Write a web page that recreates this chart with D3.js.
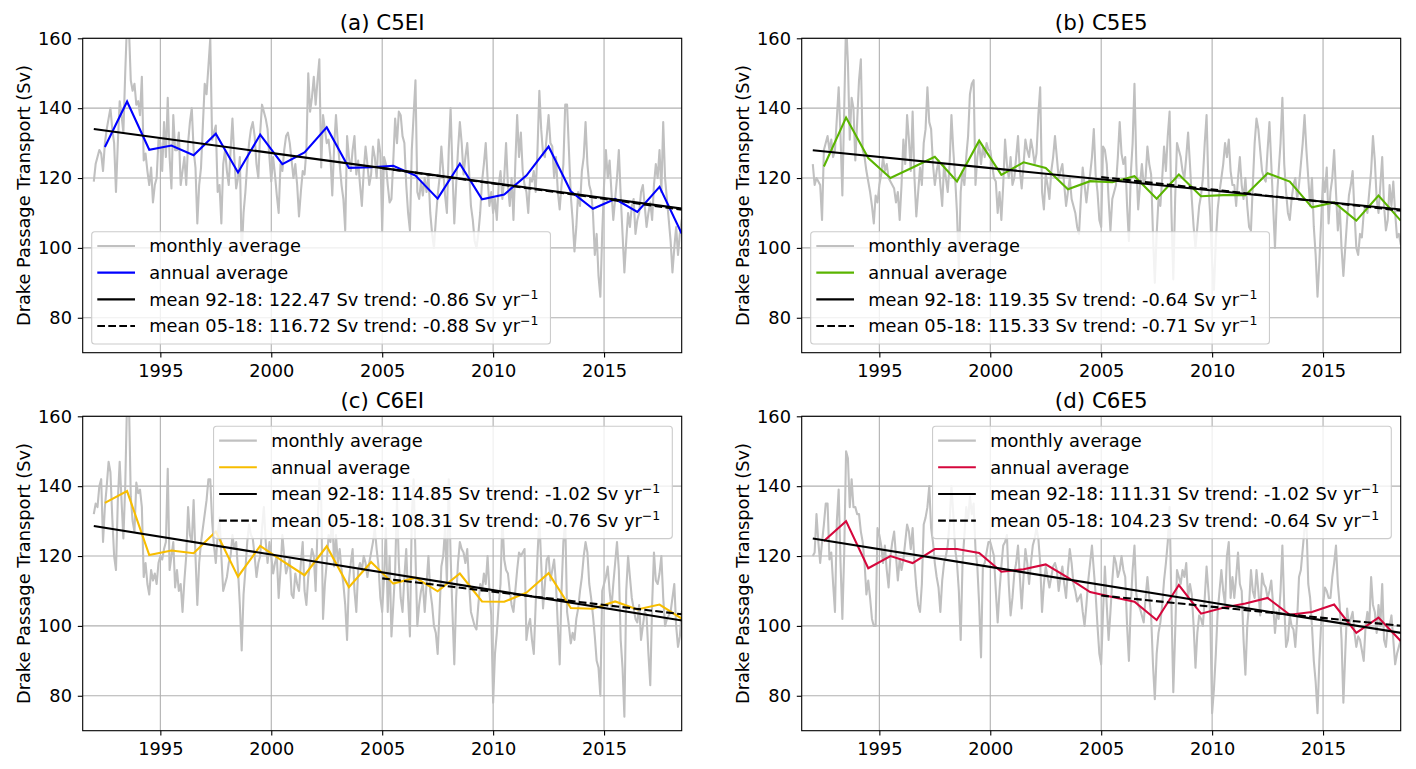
<!DOCTYPE html>
<html>
<head>
<meta charset="utf-8">
<script src="https://cdn.jsdelivr.net/npm/d3@7"></script>
<style>
	body { margin: 0; background: #fff; }
	text { font-family: "DejaVu Sans", sans-serif; fill: #000; }
</style>
</head>
<body>
<svg id="chart" width="1416" height="769"></svg>
<script>
var panelTitles = ['(a) C5EI', '(b) C5E5', '(c) C6EI', '(d) C6E5'];
var annualColors = ['#0000ff', '#5ab400', '#f7bd00', '#d5073c'];
var monthlyColor = '#c0c0c0';
var startYear = 1992;
var xTicks = [1995, 2000, 2005, 2010, 2015];
var yTicks = [80, 100, 120, 140, 160];

var meanFull = [122.47, 119.35, 114.85, 111.31];
var trendFull = [-0.86, -0.64, -1.02, -1.02];
var meanRecent = [116.72, 115.33, 108.31, 104.23];
var trendRecent = [-0.88, -0.71, -0.76, -0.64];
var periodFull = [1992, 2018 + 11 / 12];
var periodRecent = [2005, 2018 + 11 / 12];
var legendCorner = ['lower left', 'lower left', 'upper right', 'upper right'];

// monthly means, one row per year 1992..2018
var monthlyA = [
	119,124,126,128,127,122,130,134,137,140,134,130,
	116,130,142,138,133,150,165,163,148,145,147,141,
	142,138,149,125,127,122,118,123,113,118,120,131,
	130,122,136,126,143,126,117,138,128,128,133,118,
	122,126,118,130,136,140,128,123,107,118,123,135,
	147,144,152,160,131,133,135,116,118,107,124,128,
	122,118,128,137,126,117,120,126,98,110,116,124,
	130,134,136,132,124,120,133,141,139,137,134,126,
	119,126,121,115,110,124,122,128,132,133,130,125,
	120,124,118,109,116,122,121,128,150,139,143,149,
	141,148,154,123,138,134,130,131,126,115,129,138,
	130,124,118,114,105,132,126,122,128,132,121,125,
	118,112,122,129,124,118,121,129,126,120,131,127,
	105,126,124,118,113,114,125,137,130,139,138,132,
	130,118,110,105,128,138,148,116,114,119,115,120,
	116,121,110,104,100,108,115,120,129,122,115,110,
	128,140,122,107,118,128,136,130,121,126,130,122,
	112,108,102,100,104,110,119,124,130,120,112,116,
	110,114,108,118,122,114,120,130,118,112,120,108,
	124,138,126,133,122,118,116,110,120,119,122,116,
	128,145,134,127,126,132,138,130,129,120,126,116,
	111,118,124,141,141,128,115,108,99,106,116,112,
	122,126,136,124,118,116,110,98,104,92,86,104,
	118,128,120,125,116,108,114,120,128,115,104,93,
	102,110,106,112,114,104,108,110,116,118,112,106,
	110,113,108,118,124,120,128,116,136,120,114,108,
	102,93,100,106,98,104,108,110,106,104,108,110
];
var monthlyB = [
	124,118,120,119,118,108,128,130,132,128,131,126,
	128,137,146,132,115,140,165,153,131,143,140,125,
	136,148,154,128,126,122,119,116,112,107,115,113,
	118,121,126,122,124,120,119,118,117,113,116,108,
	118,131,124,138,131,122,139,120,109,116,123,118,
	130,134,146,136,134,124,118,122,125,118,112,124,
	120,116,124,138,128,120,110,94,116,122,118,126,
	132,144,147,148,118,126,130,124,129,126,130,128,
	128,124,120,119,110,116,108,118,131,124,120,126,
	118,120,126,132,122,117,124,131,128,126,131,128,
	124,127,138,146,116,111,121,118,114,122,126,132,
	126,120,122,124,118,112,116,120,114,112,110,106,
	104,114,123,118,113,118,121,126,134,121,116,108,
	106,129,128,124,114,105,114,116,118,126,136,127,
	124,126,112,102,121,130,147,124,111,118,124,118,
	120,129,124,121,104,90,104,114,112,120,129,122,
	132,139,110,91,114,130,128,126,122,120,126,133,
	124,114,106,100,106,112,115,120,130,138,118,109,
	96,88,102,111,116,120,124,130,126,131,122,118,
	118,112,120,126,118,114,120,112,106,105,118,130,
	137,134,128,122,120,119,128,136,124,112,100,114,
	122,130,143,124,116,110,108,114,118,120,114,118,
	124,130,138,128,120,112,120,106,98,86,96,108,
	120,116,123,107,116,120,128,116,105,112,100,92,
	100,108,115,118,122,110,100,98,104,103,110,112,
	110,116,122,132,125,114,110,118,126,112,105,108,
	118,112,119,110,103,104,101,106,104,102,108,106
];
var monthlyC = [
	132,135,134,140,142,124,134,140,147,144,131,120,
	116,136,147,136,125,140,165,165,137,130,127,141,
	138,139,134,114,118,112,109,116,113,115,112,118,
	120,119,122,124,145,116,120,124,111,116,110,112,
	104,113,120,134,126,124,136,120,106,118,124,128,
	132,136,142,142,130,123,118,126,131,120,110,112,
	114,118,120,126,122,124,116,106,93,109,116,124,
	129,126,125,120,114,118,120,128,134,124,118,124,
	120,115,118,120,108,116,126,120,115,117,119,109,
	108,115,112,110,118,124,110,106,114,118,122,120,
	110,128,142,136,102,112,118,126,124,132,117,126,
	118,122,116,112,106,96,113,118,122,110,104,116,
	118,116,120,118,114,118,121,124,128,122,117,108,
	104,114,128,104,120,97,106,116,136,118,108,104,
	114,122,108,97,131,142,120,100,106,110,112,104,
	112,120,110,106,100,98,92,104,117,120,128,112,
	142,120,104,89,108,118,124,122,121,118,122,112,
	104,102,100,99,106,112,110,115,112,120,110,103,
	78,92,98,106,112,131,119,116,115,110,106,104,
	110,116,121,120,121,122,96,100,102,96,92,106,
	120,131,118,105,112,119,120,113,116,119,112,100,
	89,110,124,130,104,100,95,98,96,102,105,110,
	114,120,124,121,112,108,103,97,90,88,80,110,
	112,114,117,110,105,112,118,124,116,96,88,74,
	110,120,114,108,105,102,101,106,96,100,104,103,
	92,83,106,121,113,112,115,120,108,100,102,103,
	104,108,112,100,94,97,104,100,102,98,104,102
];
var monthlyD = [
	120,121,132,124,118,124,129,135,135,119,121,112,
	104,130,139,118,102,121,150,148,134,142,134,134,
	132,132,127,124,118,109,113,108,102,100,100,128,
	126,123,118,123,116,111,120,124,127,120,113,119,
	116,119,124,129,127,122,128,118,111,106,104,112,
	129,131,134,140,128,124,118,114,111,104,113,118,
	120,123,130,140,132,122,118,110,96,118,126,134,
	130,137,132,135,122,117,106,91,117,118,121,124,
	124,122,120,110,101,110,117,123,124,126,112,103,
	108,115,118,123,114,105,114,122,118,112,118,123,
	125,128,125,118,104,112,117,114,111,114,117,118,
	116,110,114,117,112,108,116,122,118,112,110,107,
	108,109,104,100,106,113,118,123,116,109,100,92,
	89,104,117,106,96,104,113,120,118,114,116,120,
	116,114,100,90,106,116,123,109,106,105,103,101,
	108,114,108,103,89,79,92,98,101,106,113,118,
	124,134,106,81,98,116,114,112,116,114,118,108,
	112,109,100,88,98,103,102,100,108,117,110,103,
	75,82,92,104,110,116,110,106,120,124,108,114,
	108,114,121,112,110,96,86,100,106,116,110,108,
	116,110,103,115,112,111,108,110,113,106,98,104,
	102,110,123,106,94,96,103,100,99,94,102,114,
	116,122,128,130,112,108,100,90,84,75,90,101,
	106,111,110,108,108,114,118,123,112,106,96,78,
	92,105,100,102,104,98,94,97,96,93,90,100,
	104,100,114,106,104,98,106,100,112,96,94,100,
	100,103,96,89,92,94,96,94,96,95,98,96
];

// annual means, 1992..2018 (plotted mid-year)
var annualA = [128.9,141.9,128.1,129.3,126.5,132.7,121.6,132.4,124.0,127.3,134.5,122.9,123.1,123.5,120.7,114.1,124.1,113.9,115.3,120.7,129.0,116.2,111.2,114.0,110.3,117.5,104.1];
var annualB = [123.3,137.3,125.7,120.0,123.0,126.1,119.0,130.7,120.9,124.5,122.9,116.8,119.1,118.8,120.5,114.1,121.0,114.8,115.1,115.1,121.4,119.0,111.6,113.0,107.8,115.0,107.8];
var annualC = [135.2,138.6,120.3,121.6,120.8,127.0,114.1,122.9,118.6,114.5,122.8,111.1,118.3,112.1,113.8,109.9,115.0,107.0,106.9,109.5,115.1,105.1,104.9,107.0,104.7,106.1,102.1];
var annualD = [124.3,130.0,116.5,120.0,118.0,122.0,122.0,120.9,115.5,116.2,117.6,113.8,109.7,108.3,106.9,101.7,111.7,103.5,105.2,106.4,108.0,103.2,104.0,106.1,98.0,102.4,95.7];

var monthlyAll = [monthlyA, monthlyB, monthlyC, monthlyD];
var annualAll = [annualA, annualB, annualC, annualD];

var svg = d3.select('#chart');
svg.append('rect').attr('width', 1416).attr('height', 769).attr('fill', '#fff');

var plotW = 599, plotH = 314.4;
var frames = [
	{left: 82.7, top: 38.3},
	{left: 801.7, top: 38.3},
	{left: 82.7, top: 416.3},
	{left: 801.7, top: 416.3}
];
var fs = 17.8;

frames.forEach(function(f, p){
	var g = svg.append('g');
	var x = d3.scaleLinear().domain([1991.5, 2018.5]).range([f.left, f.left + plotW]);
	var y = d3.scaleLinear().domain([70, 160]).range([f.top + plotH, f.top]);

	var clipId = 'clip' + p;
	svg.append('clipPath').attr('id', clipId)
		.append('rect')
		.attr('x', f.left).attr('y', f.top)
		.attr('width', plotW).attr('height', plotH);

	// grid
	g.selectAll('.gx').data(xTicks).enter().append('line')
		.attr('x1', d => x(d)).attr('x2', d => x(d))
		.attr('y1', f.top).attr('y2', f.top + plotH)
		.attr('stroke', '#b0b0b0').attr('stroke-width', 1.1);
	g.selectAll('.gy').data(yTicks).enter().append('line')
		.attr('x1', f.left).attr('x2', f.left + plotW)
		.attr('y1', d => y(d)).attr('y2', d => y(d))
		.attr('stroke', '#b0b0b0').attr('stroke-width', 1.1);

	var plot = g.append('g').attr('clip-path', 'url(#' + clipId + ')');

	var monthlyLine = d3.line()
		.x(function(d, i){ return x(startYear + i / 12); })
		.y(function(d){ return y(d); });
	var annualLine = d3.line()
		.x(function(d, i){ return x(startYear + 0.5 + i); })
		.y(function(d){ return y(d); });

	plot.append('path').datum(monthlyAll[p])
		.attr('d', monthlyLine)
		.attr('fill', 'none').attr('stroke', monthlyColor).attr('stroke-width', 2.1)
		.attr('stroke-linejoin', 'round');
	plot.append('path').datum(annualAll[p])
		.attr('d', annualLine)
		.attr('fill', 'none').attr('stroke', annualColors[p]).attr('stroke-width', 2.1);

	var trendLine = function(mean, trend, period){
		var c = (period[0] + period[1]) / 2;
		return period.map(function(t){ return [x(t), y(mean + trend * (t - c))]; });
	};
	plot.append('path').datum(trendLine(meanFull[p], trendFull[p], periodFull))
		.attr('d', d3.line())
		.attr('fill', 'none').attr('stroke', '#000').attr('stroke-width', 2.1);
	plot.append('path').datum(trendLine(meanRecent[p], trendRecent[p], periodRecent))
		.attr('d', d3.line())
		.attr('fill', 'none').attr('stroke', '#000').attr('stroke-width', 2.1)
		.attr('stroke-dasharray', '7.7,3.3');

	// frame
	g.append('rect')
		.attr('x', f.left).attr('y', f.top)
		.attr('width', plotW).attr('height', plotH)
		.attr('fill', 'none').attr('stroke', '#000').attr('stroke-width', 1.1);

	var xAxis = g.append('g')
		.attr('transform', 'translate(0,' + (f.top + plotH) + ')')
		.call(d3.axisBottom(x).tickValues(xTicks).tickSize(4.9).tickPadding(7.2).tickFormat(d3.format('d')));
	var yAxis = g.append('g')
		.attr('transform', 'translate(' + f.left + ',0)')
		.call(d3.axisLeft(y).tickValues(yTicks).tickSize(4.9).tickPadding(5.8));
	[xAxis, yAxis].forEach(function(a){
		a.select('.domain').remove();
		a.attr('font-family', null).attr('font-size', null);
		a.selectAll('line').attr('stroke', '#000').attr('stroke-width', 1.1);
		a.selectAll('text').attr('font-size', fs).attr('fill', '#000');
	});

	g.append('text')
		.attr('transform', 'translate(' + (f.left - 52.5) + ',' + (f.top + plotH / 2) + ') rotate(-90)')
		.attr('text-anchor', 'middle')
		.attr('font-size', fs)
		.text('Drake Passage Transport (Sv)');

	g.append('text')
		.attr('x', f.left + plotW / 2).attr('y', f.top - 8)
		.attr('text-anchor', 'middle')
		.attr('font-size', 21.4)
		.text(panelTitles[p]);

	// legend
	var entries = [
		{label: 'monthly average', color: monthlyColor},
		{label: 'annual average', color: annualColors[p]},
		{label: 'mean 92-18: ' + meanFull[p].toFixed(2) + ' Sv trend: ' + trendFull[p].toFixed(2) + ' Sv yr', sup: '\u22121', color: '#000'},
		{label: 'mean 05-18: ' + meanRecent[p].toFixed(2) + ' Sv trend: ' + trendRecent[p].toFixed(2) + ' Sv yr', sup: '\u22121', color: '#000', dash: '7.7,3.3'}
	];
	var boxH = 112.3;
	var leg = g.append('g');
	var box = leg.append('rect')
		.attr('rx', 3).attr('ry', 3)
		.attr('fill', '#fff').attr('fill-opacity', 0.8)
		.attr('stroke', '#cccccc').attr('stroke-width', 1.1)
		.attr('height', boxH);
	var maxW = 0;
	entries.forEach(function(e, i){
		var cy = 14.3 + i * 26.67;
		leg.append('line')
			.attr('x1', 5.6).attr('x2', 43.3)
			.attr('y1', cy).attr('y2', cy)
			.attr('stroke', e.color).attr('stroke-width', 2.1)
			.attr('stroke-dasharray', e.dash || null);
		var t = leg.append('text')
			.attr('x', 57.6).attr('y', cy + 6.3)
			.attr('font-size', fs);
		t.append('tspan').text(e.label);
		if (e.sup){
			t.append('tspan').attr('font-size', 12.5).attr('dy', -7).text(e.sup);
		}
		maxW = Math.max(maxW, t.node().getComputedTextLength());
	});
	var boxW = 57.6 + maxW + 12;
	box.attr('width', boxW);
	var lx, ly;
	if (legendCorner[p] == 'lower left'){
		lx = f.left + 9;
		ly = f.top + plotH - 8.7 - boxH;
	}else{
		lx = f.left + plotW - 9.4 - boxW;
		ly = f.top + 10;
	}
	leg.attr('transform', 'translate(' + lx + ',' + ly + ')');
});
</script>
</body>
</html>
